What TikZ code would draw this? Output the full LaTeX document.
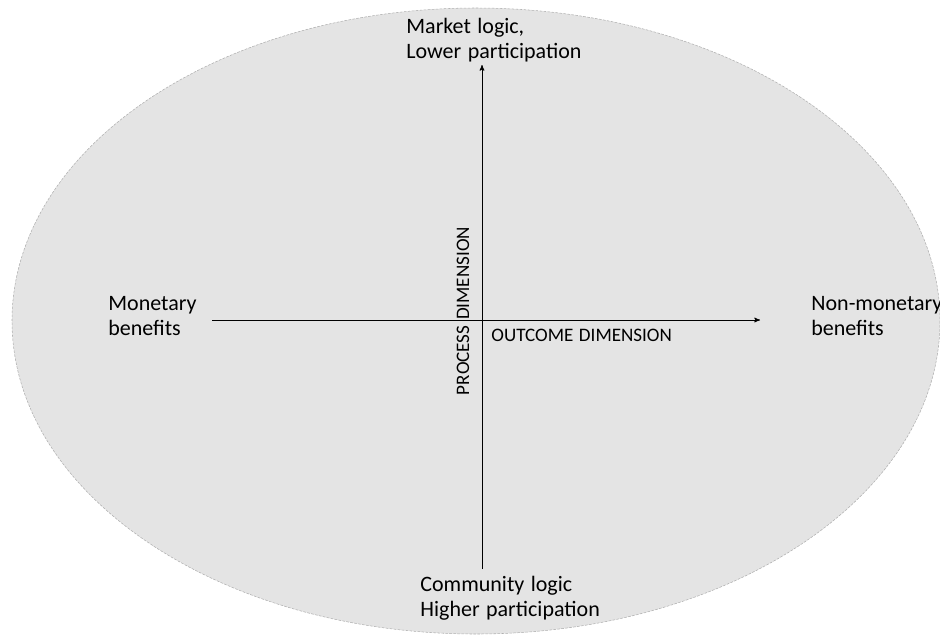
\documentclass[tikz,border=0pt]{standalone}
\usepackage{fontspec}
\setmainfont{Carlito}[WordSpace=1.3]
\usepackage{tikz}
\usetikzlibrary{arrows}

\begin{document}
\begin{tikzpicture}[x=0.75pt,y=-0.75pt,->,>=stealth',semithick]
\tikzstyle{every node}=[text=black,inner sep=0pt]
\tikzset{font=\fontsize{16.5pt}{18.5pt}\selectfont}
\tikzset{lbl/.style={align=left,anchor=west}}
\tikzset{dim/.style={font=\fontsize{14.3pt}{16pt}\selectfont}}

        \useasboundingbox (0,0) rectangle (940,637);
        \path[fill={rgb,255:red,228;green,228;blue,228},draw={rgb,255:red,175;green,175;blue,175},
              dashed,dash pattern=on 2pt off 1pt,thin,-]
              (476,321) ellipse [x radius=464, y radius=313];

        \coordinate (vb) at (482,569);
        \coordinate (vt) at (482,65);
        \coordinate (hl) at (212,320);
        \coordinate (hr) at (760,320);

        \node[lbl]                  (top)    at (406,40)  {Market logic,\\Lower participation};
        \node[lbl]                  (bottom) at (420,598) {Community logic\\Higher participation};
        \node[lbl]                  (left)   at (108,316) {Monetary\\benefits};
        \node[lbl]                  (right)  at (811,316) {Non-monetary\\benefits};
        \node[dim,anchor=west]      (out)    at (491,335) {OUTCOME DIMENSION};
        \node[dim,rotate=90]        (proc)   at (463,311) {PROCESS DIMENSION};

        \path[->,line width=0.6pt]
        (vb)   edge node {}            (vt)
        (hl)   edge node {}            (hr)
        ; %end path

\end{tikzpicture}
\end{document}
